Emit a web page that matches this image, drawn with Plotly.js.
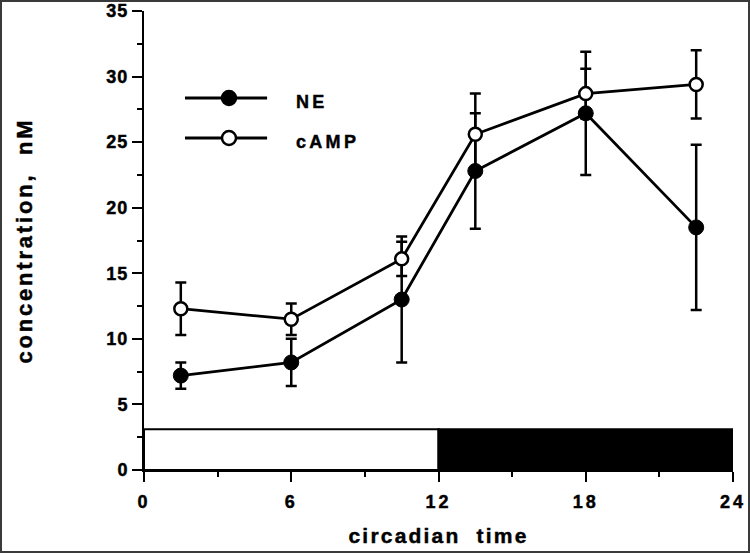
<!DOCTYPE html>
<html>
<head>
<meta charset="utf-8">
<script src="https://cdn.plot.ly/plotly-3.0.1.min.js"></script>
<style>
  html, body { margin: 0; padding: 0; background: #fff; }
  #wrap { position: relative; width: 750px; height: 553px; }
  #chart { width: 750px; height: 553px; }
  #frame { position: absolute; left: 0; top: 0; width: 750px; height: 553px;
           box-sizing: border-box; border: 2px solid #3a3a3a; pointer-events: none; }
  .main-svg text { stroke: black; stroke-width: 0.45px; }
  .xtick text { letter-spacing: 3px; }
  .ytick text { letter-spacing: 1px; }
  .g-xtitle text { letter-spacing: 2.2px; }
  .g-ytitle text { letter-spacing: 2.8px; }
  .annotation-text { letter-spacing: 3.3px; }
</style>
</head>
<body>
<div id="wrap"><div id="chart"></div><div id="frame"></div></div>
<script>
// ---- data ----
const circadianTime = [1.5, 6, 10.5, 13.5, 18, 22.5];
const neMean  = [7.2, 8.2, 13.0, 22.8, 27.2, 18.5];
const neErr   = [1.0, 1.8, 4.8, 4.4, 4.7, 6.3];
const campMean = [12.3, 11.5, 16.1, 25.6, 28.7, 29.4];
const campErr  = [2.0, 1.2, 1.3, 3.1, 1.9, 2.6];
const seriesNames = ['NE', 'cAMP'];
const xTickVals = [0, 6, 12, 18, 24];
const xTickText = ['0', '6', '12', '18', '24'];
const yTickVals = [0, 5, 10, 15, 20, 25, 30, 35];
const phaseStart = [0, 12];
const phaseEnd = [12, 24];
const phaseFill = ['white', 'black'];
const phaseBarTop = 3.1;

const FONT = 'Liberation Sans, Arial, Helvetica, sans-serif';

const errStyle = (arr) => ({ type: 'data', array: arr, visible: true,
  color: 'black', thickness: 2.5, width: 5.5 });

const traces = [
  { x: circadianTime, y: neMean, name: seriesNames[0], type: 'scatter', mode: 'lines+markers',
    line: { color: 'black', width: 2.8 },
    marker: { symbol: 'circle', size: 15, color: 'black', line: { color: 'black', width: 1 } },
    error_y: errStyle(neErr), showlegend: false, hoverinfo: 'skip' },
  { x: circadianTime, y: campMean, name: seriesNames[1], type: 'scatter', mode: 'lines+markers',
    line: { color: 'black', width: 2.8 },
    marker: { symbol: 'circle', size: 13, color: 'white', line: { color: 'black', width: 2.5 } },
    error_y: errStyle(campErr), showlegend: false, hoverinfo: 'skip' }
];

const shapes = [];
for (let i = 0; i < phaseStart.length; i++) {
  shapes.push({ type: 'rect', xref: 'x', yref: 'y', x0: phaseStart[i], x1: phaseEnd[i],
    y0: 0, y1: phaseBarTop, fillcolor: phaseFill[i], line: { color: 'black', width: 2 }, layer: 'below' });
}

// manual legend (paper coordinates)
const legX0 = 0.0696, legX1 = 0.209, legXm = 0.1443;
const legY = [0.8105, 0.7233];
const legFill = ['black', 'white'];
const annotations = [];
for (let i = 0; i < seriesNames.length; i++) {
  shapes.push({ type: 'line', xref: 'paper', yref: 'paper', x0: legX0, x1: legX1, y0: legY[i], y1: legY[i],
    line: { color: 'black', width: 2.8 } });
  shapes.push({ type: 'circle', xref: 'paper', yref: 'paper', xsizemode: 'pixel', ysizemode: 'pixel',
    xanchor: legXm, yanchor: legY[i], x0: -7, x1: 7, y0: -7, y1: 7,
    fillcolor: legFill[i], line: { color: 'black', width: 2.5 } });
  annotations.push({ xref: 'paper', yref: 'paper', x: 0.254, y: legY[i] - 0.008,
    xanchor: 'left', yanchor: 'middle', showarrow: false, text: seriesNames[i],
    font: { family: FONT, size: 18, color: 'black', weight: 'bold' } });
}

const layout = {
  width: 750, height: 553,
  margin: { l: 144, r: 17, t: 11, b: 83 },
  paper_bgcolor: 'white', plot_bgcolor: 'white',
  showlegend: false,
  font: { family: FONT, color: 'black', weight: 'bold' },
  xaxis: {
    range: [0, 24], autorange: false, fixedrange: true,
    tickmode: 'array', tickvals: xTickVals, ticktext: xTickText,
    ticks: 'outside', ticklen: 10, tickwidth: 2, tickcolor: 'black', ticklabelstandoff: 4,
    minor: { dtick: 3, tick0: 0, ticks: 'outside', ticklen: 5, tickwidth: 2, tickcolor: 'black', showgrid: false },
    showline: true, linewidth: 2, linecolor: 'black', showgrid: false, zeroline: false,
    tickfont: { family: FONT, size: 18, color: 'black', weight: 'bold' },
    title: { text: 'circadian  time', standoff: 18,
      font: { family: FONT, size: 21, color: 'black', weight: 'bold' } }
  },
  yaxis: {
    range: [0, 35], autorange: false, fixedrange: true,
    tickmode: 'array', tickvals: yTickVals,
    ticks: 'outside', ticklen: 10, tickwidth: 2, tickcolor: 'black',
    minor: { dtick: 2.5, tick0: 0, ticks: 'outside', ticklen: 5, tickwidth: 2, tickcolor: 'black', showgrid: false },
    showline: true, linewidth: 2, linecolor: 'black', showgrid: false, zeroline: false,
    tickfont: { family: FONT, size: 18, color: 'black', weight: 'bold' },
    title: { text: 'concentration,  nM', standoff: 68,
      font: { family: FONT, size: 22, color: 'black', weight: 'bold' } }
  },
  shapes: shapes,
  annotations: annotations
};

Plotly.newPlot('chart', traces, layout, { staticPlot: true, displayModeBar: false });
</script>
</body>
</html>
